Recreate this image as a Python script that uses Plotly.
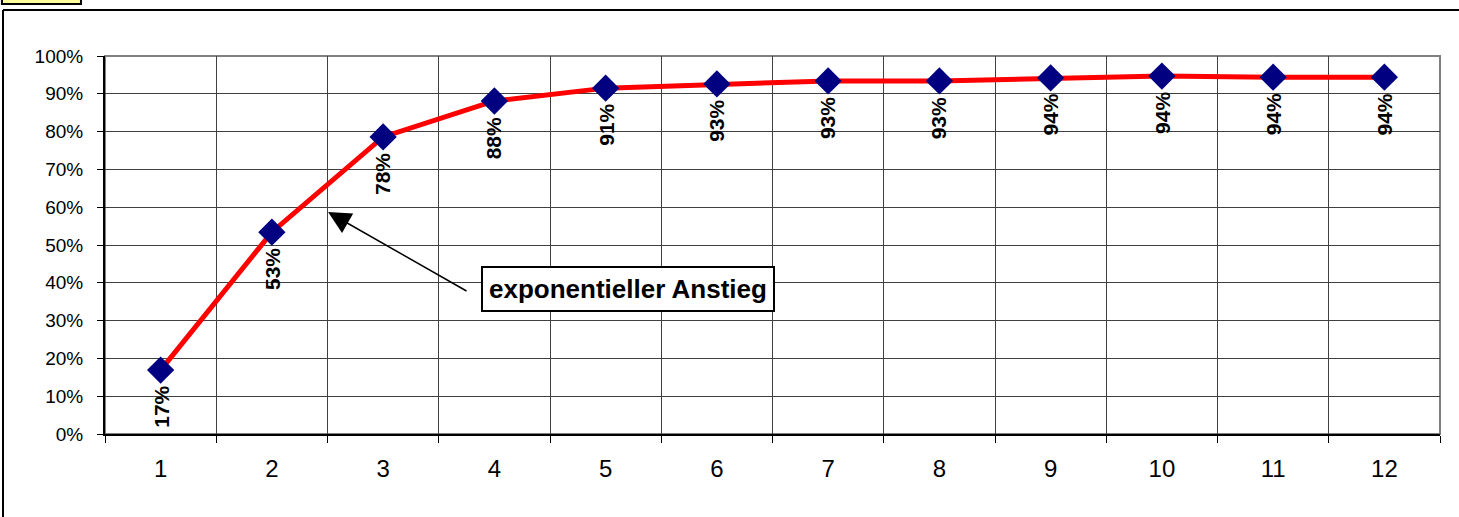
import plotly.graph_objects as go

# Werte aus dem Diagramm
kategorien = ["1", "2", "3", "4", "5", "6", "7", "8", "9", "10", "11", "12"]
anteile = [0.169, 0.534, 0.786, 0.881, 0.915, 0.926, 0.934, 0.934, 0.942, 0.947, 0.944, 0.944]
beschriftungen = ["17%", "53%", "78%", "88%", "91%", "93%", "93%", "93%", "94%", "94%", "94%", "94%"]
y_ticks = [0, 0.1, 0.2, 0.3, 0.4, 0.5, 0.6, 0.7, 0.8, 0.9, 1.0]
y_ticktext = ["0%", "10%", "20%", "30%", "40%", "50%", "60%", "70%", "80%", "90%", "100%"]

schrift = "Liberation Sans, Arial, sans-serif"

fig = go.Figure()

fig.add_trace(go.Scatter(
    x=kategorien, y=anteile,
    mode="lines+markers",
    line=dict(color="#FF0000", width=5),
    marker=dict(symbol="diamond", size=21, color="#000080", line=dict(width=0)),
    hoverinfo="skip",
))

# Datenbeschriftungen, senkrecht unter den Punkten (x = Index der Kategorie)
for i, (v, t) in enumerate(zip(anteile, beschriftungen)):
    fig.add_annotation(
        x=i, y=v, text="<b>%s</b>" % t, textangle=-90,
        showarrow=False, yanchor="top", xanchor="center", yshift=-14,
        font=dict(family=schrift, size=21, color="black"),
    )

# Pfeil und Textfeld
fig.add_annotation(
    x=1.505, y=0.587, ax=2.763, ay=0.376, axref="x", ayref="y",
    text="", showarrow=True, arrowhead=2, arrowsize=3, arrowwidth=1.5,
    arrowcolor="black",
)
fig.add_annotation(
    x=4.201, y=0.3836, text="<b>exponentieller Anstieg</b>", showarrow=False,
    font=dict(family=schrift, size=26, color="black"),
    bgcolor="white", bordercolor="black", borderwidth=2, borderpad=6,
)

# Rahmen der Zeichnungsfläche (grau) und äußerer Rahmen
fig.add_shape(type="rect", xref="paper", yref="paper", x0=0, x1=1, y0=0, y1=1,
              line=dict(color="#808080", width=2), layer="below")
fig.add_shape(type="line", xref="paper", yref="paper",
              x0=-0.0764, x1=1.05, y0=1.1217, y1=1.1217,
              line=dict(color="black", width=2))
fig.add_shape(type="line", xref="paper", yref="paper",
              x0=-0.0764, x1=-0.0764, y0=-0.25, y1=1.1217,
              line=dict(color="black", width=2))
fig.add_shape(type="rect", xref="paper", yref="paper",
              x0=-0.0772, x1=-0.018, y0=1.1376, y1=1.17,
              line=dict(color="black", width=2), fillcolor="#FFFF99")

fig.update_xaxes(
    type="category", tickson="boundaries", range=[-0.5, 11.5],
    showgrid=True, gridcolor="#404040", gridwidth=1,
    showline=True, linecolor="black", linewidth=2,
    ticks="outside", ticklen=7, tickcolor="black", tickwidth=1,
    ticklabelstandoff=12,
    tickfont=dict(family=schrift, size=24, color="black"),
    zeroline=False,
)
fig.update_yaxes(
    range=[0, 1], tickvals=y_ticks, ticktext=y_ticktext,
    showgrid=True, gridcolor="#404040", gridwidth=1,
    showline=True, linecolor="black", linewidth=2,
    ticks="outside", ticklen=6, tickcolor="black", tickwidth=1,
    ticklabelstandoff=10,
    tickfont=dict(family=schrift, size=19, color="black"),
    zeroline=False,
)

fig.update_layout(
    width=1459, height=517,
    margin=dict(l=105, r=19, t=56, b=83),
    paper_bgcolor="white", plot_bgcolor="white",
    showlegend=False,
)

fig.write_html("out.html", config={"displayModeBar": False},
               post_script="document.body.style.margin='0';")
